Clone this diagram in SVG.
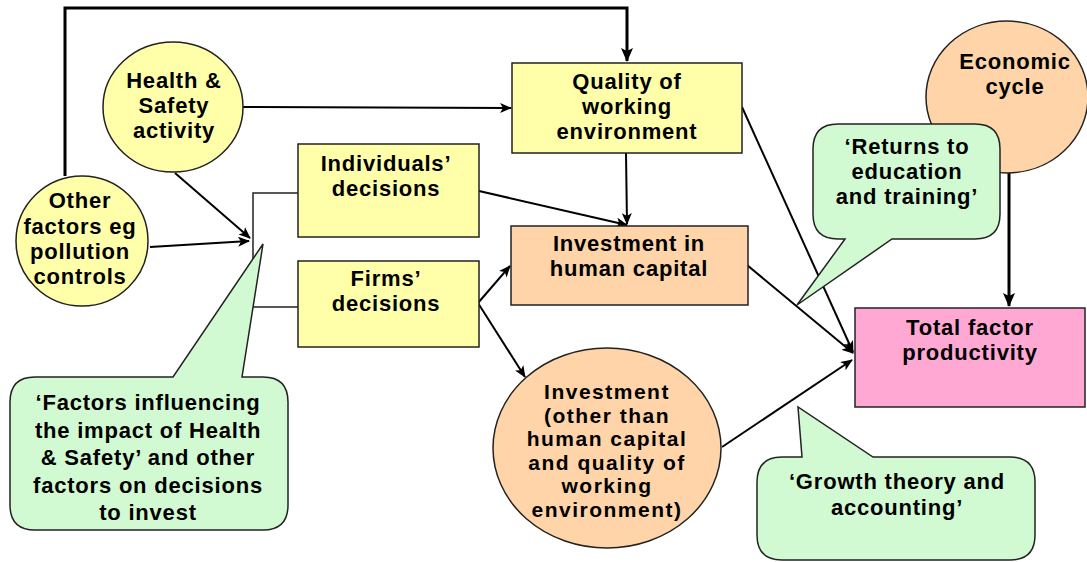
<svg xmlns="http://www.w3.org/2000/svg" width="1087" height="562" viewBox="0 0 1087 562">
  <style>
    .lbl { font-family: "Liberation Sans", Arial, sans-serif; font-weight: bold; font-size: 22px; letter-spacing: 0.8px; fill: #000; text-anchor: middle; }
    .lbl.tight { font-size: 21px; letter-spacing: 1.5px; }
    .yellow { fill: #FFFFAA; stroke: #222; stroke-width: 1.5; }
    .peach { fill: #FFD4A8; stroke: #222; stroke-width: 1.5; }
    .pink { fill: #FFA8D4; stroke: #222; stroke-width: 1.5; }
    .note { fill: #D2FAD2; stroke: #222; stroke-width: 1.5; }
    .conn { fill: none; stroke: #000; stroke-width: 2; }
    .thick { fill: none; stroke: #000; stroke-width: 3; }
    .thin { fill: none; stroke: #222; stroke-width: 1.5; }
  </style>
  <defs>
    <marker id="arr" viewBox="0 0 12 10" refX="11" refY="5" markerUnits="userSpaceOnUse" markerWidth="12" markerHeight="10" orient="auto">
      <path d="M0,0 L12,5 L0,10 L3,5 Z" fill="#000"/>
    </marker>
    <marker id="arrBig" viewBox="0 0 14 12" refX="13" refY="6" markerUnits="userSpaceOnUse" markerWidth="14" markerHeight="12" orient="auto">
      <path d="M0,0 L14,6 L0,12 L3,6 Z" fill="#000"/>
    </marker>
  </defs>

  <!-- connectors -->
  <g id="connectors">
    <polyline class="thick" points="65,176 65,8 627,8 627,61" marker-end="url(#arrBig)"/>
    <line class="thick" x1="1009" y1="173" x2="1009" y2="306" marker-end="url(#arrBig)"/>
    <line class="conn" x1="243" y1="107" x2="511" y2="108" marker-end="url(#arr)"/>
    <line class="conn" x1="175" y1="173" x2="250" y2="238" marker-end="url(#arr)"/>
    <line class="conn" x1="150" y1="247" x2="249" y2="241" marker-end="url(#arr)"/>
    <polyline class="thin" points="298,193 253,193 253,307 298,307"/>
    <line class="conn" x1="479" y1="191" x2="627" y2="225" marker-end="url(#arr)"/>
    <line class="conn" x1="626" y1="153" x2="627" y2="224" marker-end="url(#arr)"/>
    <line class="conn" x1="478" y1="303" x2="510" y2="266" marker-end="url(#arr)"/>
    <line class="conn" x1="478" y1="303" x2="525" y2="377" marker-end="url(#arr)"/>
    <line class="conn" x1="742" y1="107" x2="853" y2="352" marker-end="url(#arr)"/>
    <line class="conn" x1="747" y1="265" x2="853" y2="353" marker-end="url(#arr)"/>
    <line class="conn" x1="722" y1="447" x2="852" y2="360" marker-end="url(#arr)"/>
  </g>

  <g id="health-safety">
    <ellipse class="yellow" cx="173" cy="107" rx="70" ry="65"/>
    <text class="lbl" x="174" y="88">Health &amp;</text>
    <text class="lbl" x="174" y="113">Safety</text>
    <text class="lbl" x="174" y="138">activity</text>
  </g>

  <g id="other-factors">
    <ellipse class="yellow" cx="82" cy="241" rx="66" ry="65"/>
    <text class="lbl" x="80" y="208">Other</text>
    <text class="lbl" x="80" y="234">factors eg</text>
    <text class="lbl" x="80" y="259">pollution</text>
    <text class="lbl" x="80" y="284">controls</text>
  </g>

  <g id="quality">
    <rect class="yellow" x="512" y="63" width="230" height="90"/>
    <text class="lbl" x="627" y="89">Quality of</text>
    <text class="lbl" x="627" y="114">working</text>
    <text class="lbl" x="627" y="139">environment</text>
  </g>

  <g id="individuals">
    <rect class="yellow" x="298" y="144" width="181" height="93"/>
    <text class="lbl" x="386" y="171">Individuals’</text>
    <text class="lbl" x="386" y="196">decisions</text>
  </g>

  <g id="firms">
    <rect class="yellow" x="298" y="261" width="181" height="86"/>
    <text class="lbl" x="386" y="286">Firms’</text>
    <text class="lbl" x="386" y="311">decisions</text>
  </g>

  <g id="human-capital">
    <rect class="peach" x="511" y="226" width="237" height="79"/>
    <text class="lbl" x="629" y="251">Investment in</text>
    <text class="lbl" x="629" y="276">human capital</text>
  </g>

  <g id="other-investment">
    <ellipse class="peach" cx="607" cy="448" rx="114" ry="100"/>
    <text class="lbl tight" x="607" y="399">Investment</text>
    <text class="lbl tight" x="607" y="422.5">(other than</text>
    <text class="lbl tight" x="607" y="446">human capital</text>
    <text class="lbl tight" x="607" y="469.5">and quality of</text>
    <text class="lbl tight" x="607" y="493">working</text>
    <text class="lbl tight" x="607" y="516.5">environment)</text>
  </g>

  <g id="economic-cycle">
    <ellipse class="peach" cx="1007" cy="97" rx="81" ry="76"/>
    <text class="lbl" x="1015" y="69">Economic</text>
    <text class="lbl" x="1015" y="94">cycle</text>
  </g>

  <g id="tfp">
    <rect class="pink" x="855" y="308" width="230" height="99"/>
    <text class="lbl" x="970" y="335">Total factor</text>
    <text class="lbl" x="970" y="360">productivity</text>
  </g>

  <g id="returns-note">
    <path class="note" d="M838,124 H975 Q1000,124 1000,149 V214 Q1000,239 975,239 H892 L797,305 L845,239 H838 Q813,239 813,214 V149 Q813,124 838,124 Z"/>
    <text class="lbl" x="907" y="154">‘Returns to</text>
    <text class="lbl" x="907" y="179">education</text>
    <text class="lbl" x="907" y="204">and training’</text>
  </g>

  <g id="factors-note">
    <path class="note" d="M35,377 H173 L263,244 L242,377 H263 Q288,377 288,402 V505 Q288,530 263,530 H35 Q10,530 10,505 V402 Q10,377 35,377 Z"/>
    <text class="lbl" x="148" y="410">‘Factors influencing</text>
    <text class="lbl" x="148" y="438">the impact of Health</text>
    <text class="lbl" x="148" y="465">&amp; Safety’ and other</text>
    <text class="lbl" x="148" y="493">factors on decisions</text>
    <text class="lbl" x="148" y="520">to invest</text>
  </g>

  <g id="growth-note">
    <path class="note" d="M782,457 H802 L798,407 L873,457 H1010 Q1035,457 1035,482 V535 Q1035,560 1010,560 H782 Q757,560 757,535 V482 Q757,457 782,457 Z"/>
    <text class="lbl" x="897" y="489">‘Growth theory and</text>
    <text class="lbl" x="897" y="515">accounting’</text>
  </g>
</svg>
